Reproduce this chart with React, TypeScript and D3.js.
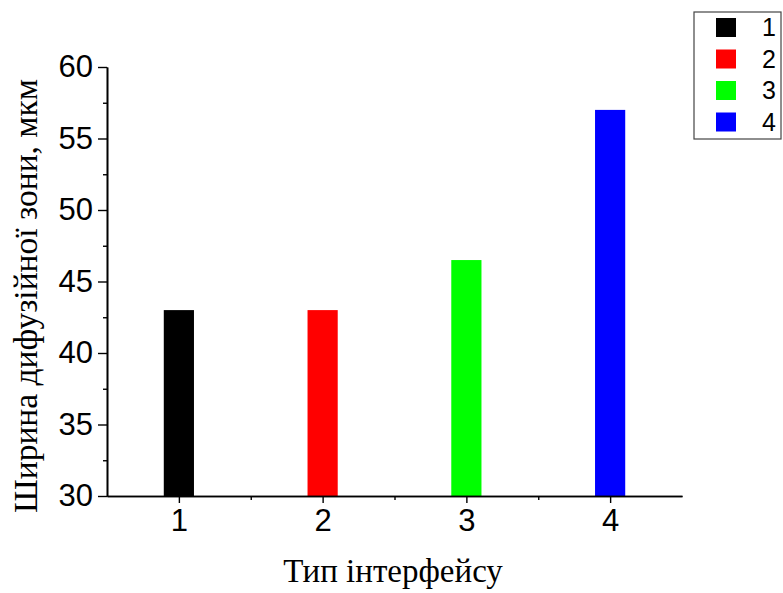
import React from "react";
import * as d3 from "d3";

const categories = [1, 2, 3, 4];
const values = [43, 43, 46.5, 57];
const colors = ["#000000", "#ff0000", "#00ff00", "#0000ff"];
const legendLabels = ["1", "2", "3", "4"];
const yTicks = [30, 35, 40, 45, 50, 55, 60];
const yMinorTicks = [32.5, 37.5, 42.5, 47.5, 52.5, 57.5];
const xMinorTicks = [1.5, 2.5, 3.5];

export default function App() {
  const width = 783;
  const height = 593;
  const marginLeft = 107;
  const marginRight = 101;
  const marginTop = 67;
  const marginBottom = 97;

  const x = d3
    .scaleLinear()
    .domain([0.5, 4.5])
    .range([marginLeft, width - marginRight]);
  const y = d3
    .scaleLinear()
    .domain([30, 60])
    .range([height - marginBottom, marginTop]);

  const barW = x(1.105) - x(0.895);

  const styleAxis = (g: any, fontSize: number) => {
    g.select(".domain").attr("stroke", "#000").attr("stroke-width", 1.6);
    g.selectAll(".tick line").attr("stroke", "#000").attr("stroke-width", 1.4);
    g.selectAll(".tick text")
      .attr("fill", "#000")
      .style("font-family", "'Liberation Sans', Arial, sans-serif")
      .style("font-size", `${fontSize}px`);
  };

  return (
    <svg
      width={width}
      height={height}
      style={{ position: "absolute", left: 0, top: 0, background: "#fff" }}
    >
      {values.map((v, i) => (
        <rect
          key={i}
          x={x(categories[i]) - barW / 2}
          y={y(v)}
          width={barW}
          height={y(30) - y(v)}
          fill={colors[i]}
        />
      ))}
      <g
        transform={`translate(0, ${height - marginBottom})`}
        ref={(node) => {
          if (!node) return;
          const g = d3.select(node);
          g.call(
            d3
              .axisBottom(x)
              .tickValues(xMinorTicks)
              .tickSize(4)
              .tickFormat(() => "")
              .tickSizeOuter(0)
          );
          styleAxis(g, 31);
        }}
      />
      <g
        transform={`translate(0, ${height - marginBottom})`}
        ref={(node) => {
          if (!node) return;
          const g = d3.select(node);
          g.call(
            d3
              .axisBottom(x)
              .tickValues(categories)
              .tickSize(7)
              .tickPadding(6)
              .tickFormat(d3.format("d"))
              .tickSizeOuter(0)
          );
          styleAxis(g, 31);
        }}
      />
      <g
        transform={`translate(${marginLeft}, 0)`}
        ref={(node) => {
          if (!node) return;
          const g = d3.select(node);
          g.call(
            d3
              .axisLeft(y)
              .tickValues(yMinorTicks)
              .tickSize(4)
              .tickFormat(() => "")
              .tickSizeOuter(0)
          );
          styleAxis(g, 31);
        }}
      />
      <g
        transform={`translate(${marginLeft}, 0)`}
        ref={(node) => {
          if (!node) return;
          const g = d3.select(node);
          g.call(
            d3
              .axisLeft(y)
              .tickValues(yTicks)
              .tickSize(9)
              .tickPadding(5)
              .tickFormat(d3.format("d"))
              .tickSizeOuter(0)
          );
          styleAxis(g, 31);
        }}
      />
      <text
        x={-296}
        y={37}
        transform="rotate(-90)"
        textAnchor="middle"
        fontSize="33.5"
        fontFamily="'Liberation Serif', 'Times New Roman', serif"
      >
        Ширина дифузійної зони, мкм
      </text>
      <text
        x={393}
        y={582}
        textAnchor="middle"
        fontSize="33"
        fontFamily="'Liberation Serif', 'Times New Roman', serif"
      >
        Тип інтерфейсу
      </text>
      <g>
        <rect x={694} y={12} width={87} height={127} fill="#fff" stroke="#444" strokeWidth="1.2" />
        {legendLabels.map((l, i) => (
          <g key={l} transform={`translate(716, ${18 + i * 31.5})`}>
            <rect width={20} height={19} fill={colors[i]} />
            <text
              x={46}
              y={18}
              fontSize="25"
              fontFamily="'Liberation Sans', Arial, sans-serif"
            >
              {l}
            </text>
          </g>
        ))}
      </g>
    </svg>
  );
}
